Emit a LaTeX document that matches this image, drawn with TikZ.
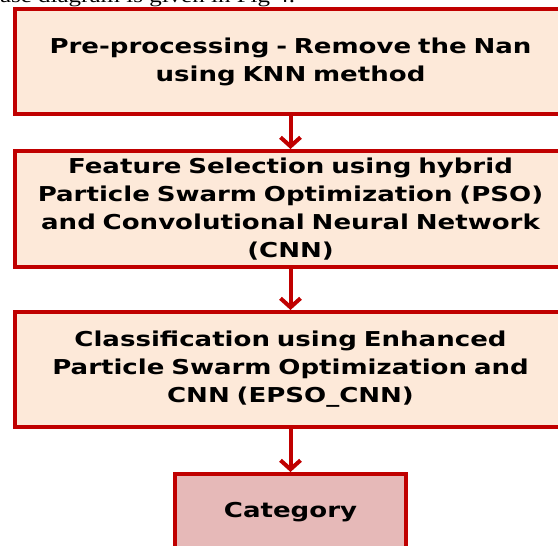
\documentclass[tikz,border=0pt]{standalone}
\usepackage{fontspec}
\usepackage{tikz}
\usetikzlibrary{positioning}
\usetikzlibrary{arrows.meta}
\newfontfamily\boxfont[FakeStretch=1.27]{DejaVu Sans Bold}
\newfontfamily\capfont[FakeStretch=1.25]{Liberation Serif}
\definecolor{darkred}{HTML}{C00000}
\definecolor{peach}{HTML}{FDE9D9}
\definecolor{rose}{HTML}{E6B9B8}

\begin{document}
\begin{tikzpicture}[
            x = 1pt, y = 1pt,
            > = {Straight Barb[length=9pt,width=20pt]}, % arrow head style
            line width = 4pt, % border and arrow width
            node distance = 33pt % distance between boxes
        ]

        \tikzstyle{stage}=[
            draw = darkred,
            fill = peach,
            align = center,
            font = \boxfont\fontsize{20.5}{28}\selectfont,
            text width = 545pt,
            inner xsep = 3pt,
            inner ysep = 1pt
        ]

        \useasboundingbox (0,0) rectangle (558,-546);
        \clip (0,0) rectangle (558,-546);

        % caption line of the page, cut off
        \node[font=\capfont\fontsize{20}{24}\selectfont, anchor=base west, inner sep=0pt] (cap) at (-2,-2.5) {ase diagram is given in Fig 4.};

	% processing steps
        \node[stage, minimum height=105pt] (P) at (290.5,-61.5) {Pre-processing - Remove the Nan\\using KNN method};
        \node[stage, minimum height=116pt] (F) [below=33pt of P] {Feature Selection using hybrid\\Particle Swarm Optimization (PSO)\\and Convolutional Neural Network\\(CNN)};
        \node[stage, minimum height=115pt] (C) [below=41pt of F] {Classification\ using Enhanced\\Particle Swarm Optimization and\\CNN (EPSO\_CNN)};

         % output
         \node[stage, fill=rose, text width=225pt, minimum height=76pt] (K) [below=43pt of C] {Category};

         \path[->, draw=darkred] (P) edge (F);
         \path[->, draw=darkred] (F) edge (C);
         \path[->, draw=darkred] (C) edge (K);

  \end{tikzpicture}
\end{document}
